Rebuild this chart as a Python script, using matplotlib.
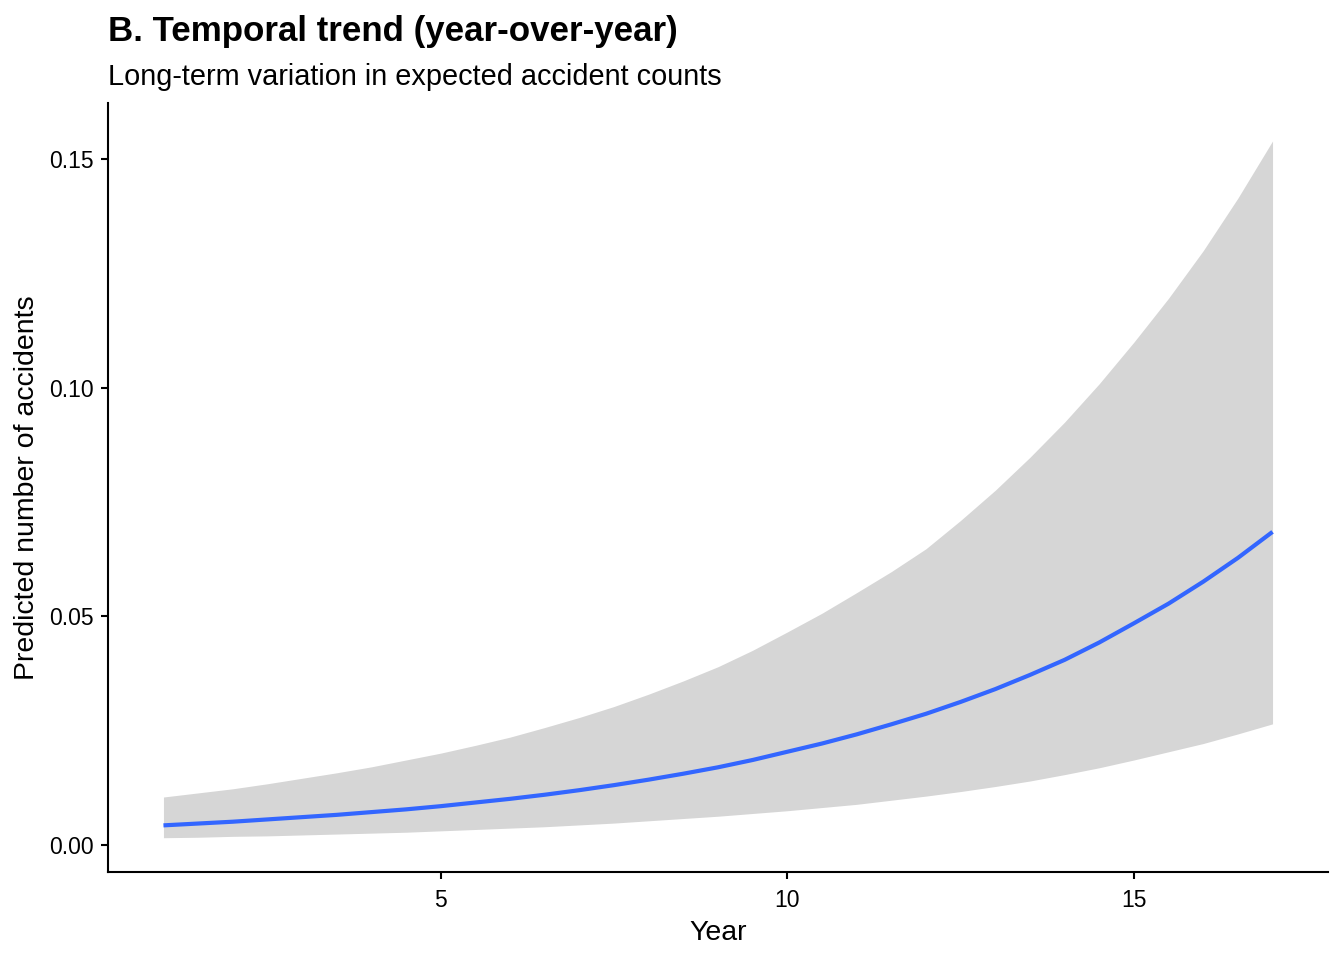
import matplotlib
matplotlib.use("Agg")
import matplotlib.pyplot as plt

plt.rcParams["font.family"] = ["Liberation Sans", "DejaVu Sans"]

# Predicted counts per half-year with 95% band
years = [1.0, 1.5, 2.0, 2.5, 3.0, 3.5, 4.0, 4.5, 5.0, 5.5, 6.0, 6.5, 7.0, 7.5, 8.0, 8.5,
         9.0, 9.5, 10.0, 10.5, 11.0, 11.5, 12.0, 12.5, 13.0, 13.5, 14.0, 14.5, 15.0,
         15.5, 16.0, 16.5, 17.0]
predicted = [0.0043, 0.0047, 0.0051, 0.0056, 0.0061, 0.0066, 0.0072, 0.0078, 0.0085,
             0.0093, 0.0101, 0.0110, 0.0120, 0.0131, 0.0143, 0.0156, 0.0170, 0.0186,
             0.0204, 0.0222, 0.0242, 0.0264, 0.0287, 0.0313, 0.0341, 0.0372, 0.0405,
             0.0443, 0.0485, 0.0528, 0.0576, 0.0628, 0.0685]
upper = [0.0105, 0.0114, 0.0123, 0.0134, 0.0146, 0.0158, 0.0171, 0.0186, 0.0201,
         0.0218, 0.0236, 0.0257, 0.0279, 0.0303, 0.0330, 0.0359, 0.0390, 0.0426,
         0.0466, 0.0507, 0.0552, 0.0598, 0.0648, 0.0710, 0.0776, 0.0848, 0.0925,
         0.1009, 0.1100, 0.1196, 0.1300, 0.1415, 0.1540]
lower = [0.0016, 0.0017, 0.0019, 0.0020, 0.0022, 0.0024, 0.0026, 0.0028, 0.0031,
         0.0034, 0.0037, 0.0040, 0.0044, 0.0048, 0.0053, 0.0058, 0.0063, 0.0069,
         0.0075, 0.0082, 0.0089, 0.0098, 0.0107, 0.0117, 0.0128, 0.0140, 0.0154,
         0.0169, 0.0186, 0.0204, 0.0222, 0.0243, 0.0265]

x_ticks = [5, 10, 15]
y_ticks = [0.00, 0.05, 0.10, 0.15]

fig = plt.figure(figsize=(13.44, 9.6), dpi=100)
ax = fig.add_axes([108 / 1344, 88 / 960, 1220 / 1344, 769 / 960])

ax.fill_between(years, lower, upper, color="#d6d6d6", linewidth=0)
ax.plot(years, predicted, color="#3366ff", linewidth=3.0, solid_capstyle="butt")

ax.set_xlim(0.2, 17.8)
ax.set_ylim(-0.0059, 0.1623)
ax.set_xticks(x_ticks)
ax.set_xticklabels([str(t) for t in x_ticks])
ax.set_yticks(y_ticks)
ax.set_yticklabels([f"{t:.2f}" for t in y_ticks])

for side in ["top", "right"]:
    ax.spines[side].set_visible(False)
for side in ["left", "bottom"]:
    ax.spines[side].set_linewidth(1.5)
    ax.spines[side].set_color("black")

ax.tick_params(axis="both", length=5, width=1.5, color="black",
               labelsize=16.5, labelcolor="black")
ax.tick_params(axis="x", pad=7)
ax.tick_params(axis="y", pad=5)

ax.set_xlabel("Year", fontsize=20.5, labelpad=6)
ax.set_ylabel("Predicted number of accidents", fontsize=20.5, labelpad=7)

fig.text(108 / 1344, 1 - 41 / 960, "B. Temporal trend (year-over-year)",
         fontsize=25.1, fontweight="bold", ha="left", va="baseline")
fig.text(108 / 1344, 1 - 85 / 960, "Long-term variation in expected accident counts",
         fontsize=20.8, ha="left", va="baseline")

fig.savefig("out.png", dpi=100)
